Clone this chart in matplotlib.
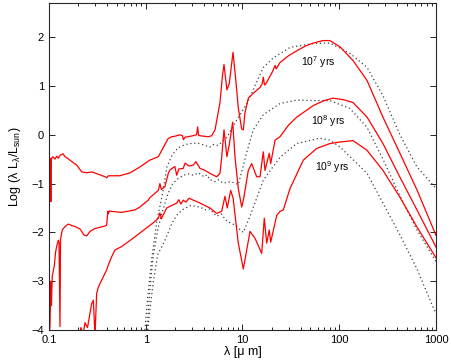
import matplotlib
matplotlib.use('Agg')
import matplotlib.pyplot as plt
from matplotlib.ticker import FixedLocator, NullFormatter

# Modelos (linea continua) - 10^7, 10^8, 10^9 anos
age7_wl = [
    0.100, 0.1005, 0.102, 0.104, 0.1045, 0.105, 0.107, 0.110, 0.115, 0.120,
    0.125, 0.130, 0.140, 0.145, 0.152, 0.160, 0.172, 0.193, 0.218, 0.245,
    0.276, 0.336, 0.380, 0.395, 0.410, 0.540, 0.688, 0.870, 1.10, 1.35,
    1.50, 1.70, 1.85, 2.00, 2.26, 2.40, 2.45, 2.55, 3.08, 3.35,
    3.44, 3.52, 3.64, 4.40, 4.80, 5.20, 5.85, 6.20, 6.44, 6.90,
    7.30, 7.98, 8.57, 9.05, 9.80, 10.2, 10.6, 11.5, 12.9, 15.2,
    16.0, 16.4, 16.9, 17.5, 20.5, 21.7, 22.3, 24.4, 30.0, 36.3,
    45.0, 54.0, 68.0, 80.0, 102, 139, 194, 283, 424, 636,
    1000]
age7_lum = [
    -2.20, -0.60, -0.48, -0.50, -1.37, -0.55, -0.47, -0.45, -0.50, -0.44,
    -0.48, -0.42, -0.39, -0.44, -0.47, -0.50, -0.55, -0.62, -0.76, -0.78,
    -0.76, -0.82, -0.86, -0.88, -0.84, -0.84, -0.78, -0.66, -0.52, -0.45,
    -0.28, -0.08, -0.04, -0.03, 0.00, -0.02, -0.10, -0.05, -0.02, 0.00,
    0.16, -0.01, -0.02, -0.04, -0.02, 0.10, 0.66, 1.20, 1.44, 0.92,
    1.05, 1.69, 1.07, 0.55, 0.12, 0.10, 0.45, 0.75, 0.85, 0.97,
    1.05, 1.18, 1.02, 1.05, 1.30, 1.42, 1.35, 1.48, 1.62, 1.72,
    1.82, 1.88, 1.93, 1.93, 1.80, 1.52, 1.11, 0.36, -0.38, -1.13,
    -2.06]

age8_wl = [
    0.100, 0.1024, 0.1045, 0.106, 0.108, 0.1135, 0.117, 0.120, 0.1248, 0.127,
    0.1299, 0.1315, 0.133, 0.1373, 0.1463, 0.1583, 0.172, 0.1857, 0.209, 0.2318,
    0.2454, 0.2653, 0.299, 0.379, 0.395, 0.405, 0.410, 0.420, 0.445, 0.564,
    0.774, 0.870, 1.06, 1.10, 1.35, 1.40, 1.45, 1.58, 1.71, 1.78,
    2.00, 2.09, 2.20, 2.44, 2.55, 2.80, 3.10, 3.30, 3.64, 4.00,
    4.61, 5.41, 5.85, 6.10, 6.44, 6.90, 7.30, 7.92, 8.36, 9.05,
    9.81, 10.3, 11.48, 12.45, 14.0, 15.17, 16.4, 17.08, 18.9, 19.56,
    21.7, 24.4, 30.0, 36.3, 54.0, 70.0, 86.0, 110, 139, 194,
    283, 424, 636, 1000]
age8_lum = [
    -4.20, -3.90, -3.00, -3.50, -2.90, -2.68, -2.40, -2.29, -2.16, -2.20,
    -3.93, -2.15, -2.09, -1.95, -1.88, -1.83, -1.86, -1.88, -1.93, -2.06,
    -2.07, -1.98, -1.92, -1.87, -1.85, -1.57, -1.62, -1.56, -1.57, -1.59,
    -1.54, -1.48, -1.34, -1.29, -1.14, -1.00, -1.12, -1.06, -0.79, -0.72,
    -0.65, -0.83, -0.70, -0.69, -0.58, -0.64, -0.62, -0.55, -0.69, -0.72,
    -0.79, -0.86, -0.79, -0.45, 0.10, -0.45, -0.20, 0.26, -0.45, -1.10,
    -1.48, -1.30, -0.73, -0.59, -0.86, -0.86, -0.35, -0.73, -0.38, -0.59,
    -0.11, -0.04, 0.20, 0.36, 0.60, 0.70, 0.75, 0.72, 0.66, 0.36,
    -0.18, -0.87, -1.54, -2.30]

age9_wl = [
    0.200, 0.214, 0.225, 0.2355, 0.250, 0.265, 0.276, 0.287, 0.299, 0.311,
    0.324, 0.364, 0.394, 0.410, 0.444, 0.481, 0.564, 0.660, 0.774, 1.063,
    1.20, 1.349, 1.40, 1.45, 1.646, 1.85, 2.088, 2.20, 2.30, 2.443,
    2.60, 2.80, 3.10, 3.30, 3.64, 4.61, 5.41, 6.09, 6.59, 6.96,
    7.55, 8.0, 9.05, 10.2, 11.96, 13.46, 15.79, 16.8, 17.78, 18.9,
    19.56, 22.6, 24.4, 26.4, 31.0, 42.5, 58.5, 80.0, 100, 139,
    194, 283, 424, 636, 1000]
age9_lum = [
    -4.20, -3.95, -4.10, -3.85, -3.95, -3.66, -3.46, -3.39, -4.10, -3.25,
    -3.12, -2.91, -2.77, -2.67, -2.50, -2.36, -2.29, -2.19, -2.09, -1.88,
    -1.80, -1.71, -1.60, -1.72, -1.50, -1.45, -1.40, -1.33, -1.42, -1.34,
    -1.38, -1.30, -1.34, -1.36, -1.40, -1.50, -1.61, -1.57, -1.26, -1.50,
    -1.14, -1.30, -2.22, -2.75, -1.98, -2.12, -2.43, -1.71, -2.22, -1.95,
    -2.20, -1.65, -1.57, -1.54, -1.10, -0.52, -0.28, -0.18, -0.15, -0.12,
    -0.32, -0.73, -1.28, -1.89, -2.52]

# Modelos de comparacion (linea punteada)
d7_wl = [0.98, 1.05, 1.16, 1.31, 1.47, 1.66, 1.87, 2.15, 2.55, 3.08,
         3.64, 4.10, 4.61, 5.00, 5.58, 6.90, 8.70, 11.1, 14.0, 16.4,
         21.0, 31.0, 54.0, 80.0, 129, 194, 283, 424, 636, 1000]
d7_lum = [-4.0, -3.3, -2.5, -1.74, -1.27, -0.65, -0.42, -0.27, -0.20, -0.17,
          -0.18, -0.22, -0.25, -0.20, -0.22, -0.05, 0.30, 0.64, 1.08, 1.38,
          1.58, 1.79, 1.87, 1.88, 1.67, 1.38, 0.80, 0.00, -0.66, -1.10]

d8_wl = [1.03, 1.10, 1.19, 1.33, 1.47, 1.71, 1.90, 2.15, 2.45, 2.73,
         3.10, 3.50, 4.00, 4.30, 4.60, 5.20, 5.60, 6.30, 7.60, 9.05,
         11.0, 12.9, 16.4, 24.4, 36.3, 54.0, 80.0, 129, 194, 283,
         424, 636, 1000]
d8_lum = [-4.0, -3.2, -2.5, -1.95, -1.60, -1.19, -1.00, -0.90, -0.83, -0.80,
          -0.83, -0.78, -0.86, -0.82, -0.92, -0.96, -0.92, -0.99, -0.96, -1.02,
          -0.38, 0.10, 0.41, 0.64, 0.71, 0.70, 0.70, 0.54, 0.15, -0.50,
          -1.25, -1.95, -2.60]

d9_wl = [1.05, 1.10, 1.20, 1.33, 1.46, 1.58, 1.87, 2.09, 2.37, 2.90,
         3.40, 3.80, 4.20, 4.60, 5.41, 6.00, 6.90, 8.36, 9.50, 10.2,
         11.96, 16.4, 24.4, 36.3, 54.0, 63.0, 80.0, 102, 194, 283,
         424, 636, 931, 1000]
d9_lum = [-4.0, -3.6, -3.0, -2.45, -2.30, -2.16, -1.81, -1.65, -1.54, -1.45,
          -1.47, -1.50, -1.54, -1.52, -1.67, -1.62, -1.77, -1.85, -1.95, -2.00,
          -1.67, -0.93, -0.46, -0.18, -0.10, -0.07, -0.11, -0.25, -0.79, -1.40,
          -2.05, -2.75, -3.53, -3.65]

age_labels = ['10$^7$ yrs', '10$^8$ yrs', '10$^9$ yrs']
label_wl = [60, 76, 84]
label_lum = [1.48, 0.27, -0.66]

xtick_vals = [0.1, 1, 10, 100, 1000]
xtick_text = ['0.1', '1', '10', '100', '1000']
ytick_vals = [-4, -3, -2, -1, 0, 1, 2]

plt.rcParams['font.family'] = ['Liberation Sans', 'DejaVu Sans']
plt.rcParams['mathtext.default'] = 'regular'

fig = plt.figure(figsize=(4.52, 3.6), dpi=100)
ax = fig.add_axes([0.1084, 0.0833, 0.8562, 0.9084])

punteado = dict(color='0.25', lw=0.9, linestyle=(0, (1, 2.2)))
ax.plot(d7_wl, d7_lum, **punteado)
ax.plot(d8_wl, d8_lum, **punteado)
ax.plot(d9_wl, d9_lum, **punteado)

ax.plot(age7_wl, age7_lum, color='red', lw=0.9)
ax.plot(age8_wl, age8_lum, color='red', lw=0.9)
ax.plot(age9_wl, age9_lum, color='red', lw=0.9)

for txt, xw, yl in zip(age_labels, label_wl, label_lum):
    ax.text(xw, yl, txt, fontsize=7.5, ha='center', va='center')

ax.set_xscale('log')
ax.set_xlim(0.1, 1000)
ax.set_ylim(-4, 2.7)
ax.set_xticks(xtick_vals)
ax.set_xticklabels(xtick_text)
ax.xaxis.set_minor_locator(FixedLocator(
    [m * 10.0 ** e for e in range(-1, 3) for m in range(2, 10)]))
ax.xaxis.set_minor_formatter(NullFormatter())
ax.set_yticks(ytick_vals)
ax.set_yticklabels([str(v).replace('-', '\u2212') for v in ytick_vals])

ax.tick_params(which='both', direction='in', top=True, right=True,
               labelsize=8, width=0.6)
ax.tick_params(which='major', length=4)
ax.tick_params(which='minor', length=2)
for s in ax.spines.values():
    s.set_linewidth(0.8)
    s.set_color('0.15')

ax.set_xlabel('λ [μ m]', fontsize=9, labelpad=1)
ax.set_ylabel('Log (λ L$_λ$/L$_{sun}$)', fontsize=9, labelpad=6)

fig.savefig('out.png', dpi=100)
